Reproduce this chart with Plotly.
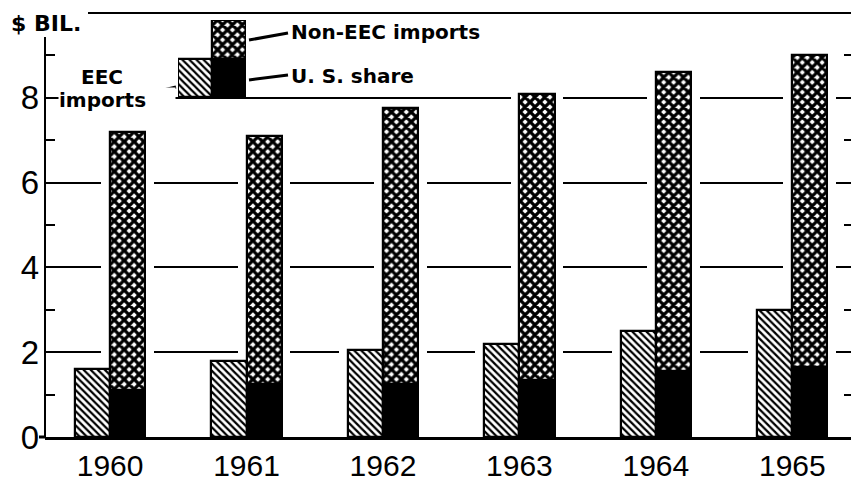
import plotly.graph_objects as go

# ---- data ----
years = ["1960", "1961", "1962", "1963", "1964", "1965"]
eec_imports = [1.6, 1.8, 2.05, 2.2, 2.5, 3.0]          # $ bil.
non_eec_imports = [7.2, 7.1, 7.75, 8.1, 8.6, 9.0]      # $ bil. (total bar)
us_share = [1.1, 1.25, 1.25, 1.35, 1.55, 1.65]         # $ bil. (part of non-EEC)
y_tick_vals = [0, 2, 4, 6, 8]
y_minor_vals = [1, 3, 5, 7, 9]
key_value = [1]  # unit height of the key swatches

# ---- layout constants ----
W_PX, H_PX = 851, 484
ML, MR, MT, MB = 45, 0, 13, 47
PW, PH = W_PX - ML - MR, H_PX - MT - MB
BAR_W = 0.257
HALO = 0.065
NUM_FONT = dict(family="Liberation Sans", size=33, color="black")
YEAR_FONT = dict(family="Liberation Sans", size=30, color="black")
LBL_FONT = dict(family="DejaVu Sans", size=20, color="black")

def px_x(px):
    return (px - ML) / PW

def px_y(py):
    return (H_PX - MB - py) / PH

x = list(range(len(years)))
rest = [t - u for t, u in zip(non_eec_imports, us_share)]

hatch = dict(shape="\\", fgcolor="black", bgcolor="white", fgopacity=1, size=5, solidity=0.45)
cross = dict(shape="x", fgcolor="black", bgcolor="white", fgopacity=1, size=7, solidity=0.72)
outline = dict(color="black", width=2.2)

fig = go.Figure()
# white halos that break the grid lines around each bar
fig.add_trace(go.Bar(x=x, y=eec_imports, width=BAR_W + 2 * HALO, offset=-BAR_W - HALO,
                     marker=dict(color="white", line=dict(width=0)), hoverinfo="skip", showlegend=False))
fig.add_trace(go.Bar(x=x, y=non_eec_imports, width=BAR_W + 2 * HALO, offset=-HALO,
                     marker=dict(color="white", line=dict(width=0)), hoverinfo="skip", showlegend=False))
# the bars
fig.add_trace(go.Bar(x=x, y=eec_imports, width=BAR_W, offset=-BAR_W, name="EEC imports",
                     marker=dict(color="white", pattern=hatch, line=outline), showlegend=False))
fig.add_trace(go.Bar(x=x, y=us_share, width=BAR_W, offset=0, name="U. S. share",
                     marker=dict(color="black", line=outline), showlegend=False))
fig.add_trace(go.Bar(x=x, y=rest, base=us_share, width=BAR_W, offset=0, name="Non-EEC imports",
                     marker=dict(color="white", pattern=cross, line=outline), showlegend=False))

# key swatches on their own small axes
fig.add_trace(go.Bar(x=[0], y=key_value, width=1, xaxis="x2", yaxis="y2",
                     marker=dict(color="white", pattern=hatch, line=outline), showlegend=False, hoverinfo="skip"))
fig.add_trace(go.Bar(x=[1], y=key_value, width=1, xaxis="x2", yaxis="y2",
                     marker=dict(color="black", line=outline), showlegend=False, hoverinfo="skip"))
fig.add_trace(go.Bar(x=[1], y=key_value, base=key_value, width=1, xaxis="x2", yaxis="y2",
                     marker=dict(color="white", pattern=cross, line=outline), showlegend=False, hoverinfo="skip"))
# empty trace for the right-hand minor tick axis
fig.add_trace(go.Scatter(x=[], y=[], yaxis="y3", showlegend=False))

shapes = [
    # left axis line
    dict(type="line", xref="paper", yref="paper", x0=0, x1=0, y0=0, y1=px_y(37),
         line=dict(color="black", width=2)),
    # top rule
    dict(type="line", xref="paper", yref="paper", x0=px_x(88), x1=1, y0=1, y1=1,
         line=dict(color="black", width=2)),
    # baseline stub left of the axis
    dict(type="line", xref="paper", yref="paper", x0=px_x(39), x1=0, y0=0, y1=0,
         line=dict(color="black", width=3)),
    # leader lines
    dict(type="line", xref="paper", yref="paper", x0=px_x(249), y0=px_y(40), x1=px_x(288), y1=px_y(33),
         line=dict(color="black", width=3)),
    dict(type="line", xref="paper", yref="paper", x0=px_x(249), y0=px_y(80), x1=px_x(288), y1=px_y(75),
         line=dict(color="black", width=3)),
    dict(type="line", xref="paper", yref="paper", x0=px_x(151), y0=px_y(93), x1=px_x(176), y1=px_y(87),
         line=dict(color="black", width=3)),
]

annotations = [
    dict(text="<b>$ BIL.</b>", xref="paper", yref="paper", x=px_x(9), y=px_y(23),
         xanchor="left", yanchor="middle", showarrow=False,
         font=dict(family="DejaVu Sans", size=22, color="black")),
    dict(text="<b>EEC</b>", xref="paper", yref="paper", x=px_x(102), y=px_y(77),
         xanchor="center", yanchor="middle", showarrow=False, font=LBL_FONT),
    dict(text="<b>imports</b>", xref="paper", yref="paper", x=px_x(58), y=px_y(100),
         xanchor="left", yanchor="middle", showarrow=False, font=LBL_FONT,
         width=116, align="left", bgcolor="white", borderpad=0),
    dict(text="<b>Non-EEC imports</b>", xref="paper", yref="paper", x=px_x(289), y=px_y(32),
         xanchor="left", yanchor="middle", showarrow=False, font=LBL_FONT),
    dict(text="<b>U. S. share</b>", xref="paper", yref="paper", x=px_x(289), y=px_y(76),
         xanchor="left", yanchor="middle", showarrow=False, font=LBL_FONT),
]

fig.update_layout(
    width=W_PX, height=H_PX,
    margin=dict(l=ML, r=MR, t=MT, b=MB, pad=0, autoexpand=False),
    paper_bgcolor="white", plot_bgcolor="white",
    barmode="overlay", bargap=0,
    showlegend=False,
    shapes=shapes, annotations=annotations,
    xaxis=dict(range=[-0.477, 5.43], tickmode="array", tickvals=x, ticktext=years,
               showline=True, linecolor="black", linewidth=3, automargin=False,
               ticks="", tickfont=YEAR_FONT, showgrid=False, zeroline=False, fixedrange=True),
    yaxis=dict(range=[0, 10], tickmode="array", tickvals=y_tick_vals,
               ticktext=[str(v) for v in y_tick_vals], automargin=False,
               showgrid=True, gridcolor="black", gridwidth=1.5,
               ticks="inside", ticklen=10, tickwidth=1.5, tickcolor="black",
               ticklabelstandoff=5,
               minor=dict(tickmode="array", tickvals=y_minor_vals, ticks="inside",
                          ticklen=10, tickwidth=1.5, tickcolor="black", showgrid=False),
               showline=False, zeroline=False, tickfont=NUM_FONT, fixedrange=True),
    yaxis3=dict(range=[0, 10], overlaying="y", side="right", anchor="x", automargin=False,
                showgrid=False, zeroline=False, showline=False, showticklabels=False,
                tickmode="array", tickvals=[], ticks="",
                minor=dict(tickmode="array", tickvals=y_minor_vals, ticks="inside",
                           ticklen=7, tickwidth=1.5, tickcolor="black", showgrid=False),
                fixedrange=True),
    xaxis2=dict(domain=[px_x(178), px_x(246)], range=[-0.5, 1.5], anchor="y2",
                visible=False, fixedrange=True),
    yaxis2=dict(domain=[px_y(97), px_y(20)], range=[0, 2], anchor="x2",
                visible=False, fixedrange=True),
)

fig.write_html(
    "out.html",
    config={"displayModeBar": False},
    post_script="document.body.style.margin='0';document.body.style.overflow='hidden';",
)
